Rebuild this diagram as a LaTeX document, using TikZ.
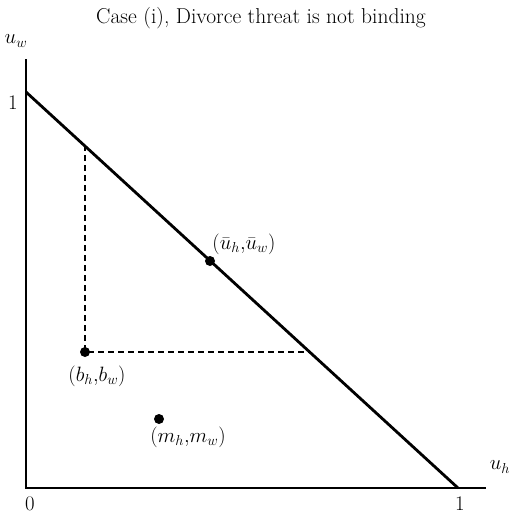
\documentclass[tikz,border=0pt]{standalone}
\begin{document}
\begin{tikzpicture}[x=1pt,y=-1pt,
  axis/.style={line width=2.8pt},
  frontier/.style={line width=2.8pt},
  guide/.style={line width=2.6pt,dash pattern=on 6pt off 4pt},
  dot/.style={circle,fill=black,inner sep=0pt,minimum size=10pt},
  lbl/.style={font=\fontsize{21}{24}\selectfont,inner sep=1pt}]
\useasboundingbox (0,0) rectangle (514,514);
\node[font=\fontsize{21.5}{24}\selectfont] (title) at (261,18) {Case (i), Divorce threat is not binding};
% axes
\coordinate (O) at (26,488);
\coordinate (ytop) at (26,59);
\coordinate (xend) at (486,488);
\draw[axis] (ytop) -- (O) -- (xend);
% frontier
\coordinate (A) at (26,92);
\coordinate (B) at (458,488);
\draw[frontier] (A) -- (B);
% dashed guides
\coordinate (bv) at (85,145.2);
\coordinate (bh) at (309,352);
\node[dot] (b) at (85,352) {};
\draw[guide] (bv) -- (b.center) -- (bh);
\node[dot] (m) at (159,419) {};
\node[dot] (u) at (210,261) {};
% labels
\node[lbl] (uw) at (16,41) {$u_w$};
\node[lbl] (one y) at (13,103) {$1$};
\node[lbl] (uh) at (500,467) {$u_h$};
\node[lbl] (zero) at (30,504) {$0$};
\node[lbl] (one x) at (460,504) {$1$};
\node[lbl] (ulab) at (244,244) {$(\bar{u}_h{,}\bar{u}_w)$};
\node[lbl] (blab) at (97,376) {$(b_h{,}b_w)$};
\node[lbl] (mlab) at (188,437) {$(m_h{,}m_w)$};
\end{tikzpicture}
\end{document}
